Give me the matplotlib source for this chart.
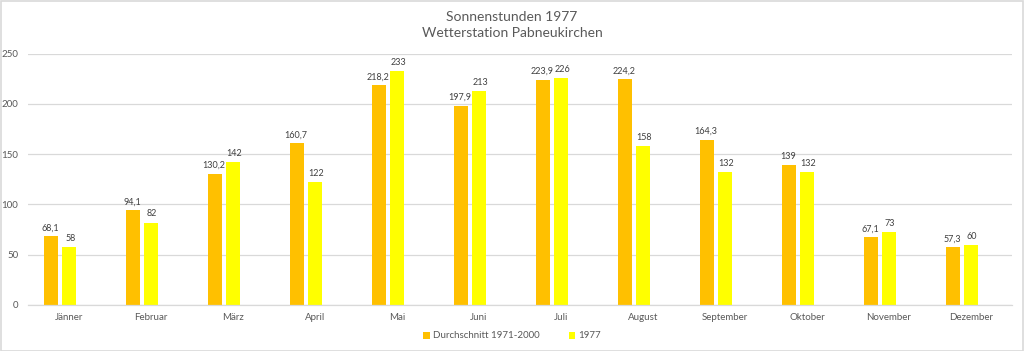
import numpy as np
import matplotlib
matplotlib.use('Agg')
import matplotlib.pyplot as plt
from matplotlib.patches import Rectangle

plt.rcParams['font.family'] = ['Lato', 'DejaVu Sans']

months = ['Jänner', 'Februar', 'März', 'April', 'Mai', 'Juni',
          'Juli', 'August', 'September', 'Oktober', 'November', 'Dezember']
mean_71_00 = [68.1, 94.1, 130.2, 160.7, 218.2, 197.9,
              223.9, 224.2, 164.3, 139, 67.1, 57.3]
year_1977 = [58, 82, 142, 122, 233, 213, 226, 158, 132, 132, 73, 60]
yticks = [0, 50, 100, 150, 200, 250]

txt = '#595959'
grid = '#D9D9D9'

def fmt(v):
    s = ('%g' % v)
    return s.replace('.', ',')

fig = plt.figure(figsize=(10.24, 3.51), dpi=100)
ax = fig.add_axes([28/1024, 1 - 305/351, 984/1024, (305 - 53.5)/351])

x = np.arange(len(months))
w = 0.17
off = 0.22
b1 = ax.bar(x - off, mean_71_00, w, color='#FFC000', label='Durchschnitt 1971-2000', zorder=2)
b2 = ax.bar(x, year_1977, w, color='#FFFF00', label='1977', zorder=2)

# data labels; the 1977 ones nudged right a hair so close pairs don't touch
for bars, vals, dx in ((b1, mean_71_00, -0.01), (b2, year_1977, 0.015)):
    for r, v in zip(bars, vals):
        ax.text(r.get_x() + r.get_width() / 2 + dx, v + 4, fmt(v), ha='center', va='bottom',
                fontsize=6.5, color='#404040')

ax.set_xlim(-0.5, len(months) - 0.5)
ax.set_ylim(0, 250)
ax.set_yticks(yticks)
ax.set_xticks(x)
ax.set_xticklabels(months)
ax.tick_params(axis='both', length=0, labelsize=7, labelcolor=txt)
ax.tick_params(axis='x', pad=6)
ax.tick_params(axis='y', pad=7)
ax.grid(axis='y', color=grid, linewidth=0.9, zorder=0)
ax.set_axisbelow(True)
for s in ['top', 'right', 'left']:
    ax.spines[s].set_visible(False)
ax.spines['bottom'].set_color(grid)
ax.spines['bottom'].set_linewidth(0.9)

fig.text(0.5, 1 - 17/351, 'Sonnenstunden 1977', ha='center', va='center', fontsize=10, color=txt)
fig.text(0.5, 1 - 33/351, 'Wetterstation Pabneukirchen', ha='center', va='center', fontsize=10, color=txt)

fig.legend(handles=[b1, b2], loc='center', bbox_to_anchor=(0.5, 1 - 336/351), ncol=2,
           frameon=False, fontsize=7, labelcolor=txt, handlelength=0.7, handleheight=0.7,
           handletextpad=0.3, columnspacing=3)

fig.patches.append(Rectangle((0.5/1024, 0.5/351), 1 - 1.5/1024, 1 - 1.5/351,
                             transform=fig.transFigure, fill=False,
                             edgecolor='#D9D9D9', linewidth=1.2))

fig.savefig('out.png', dpi=100, facecolor='white')
